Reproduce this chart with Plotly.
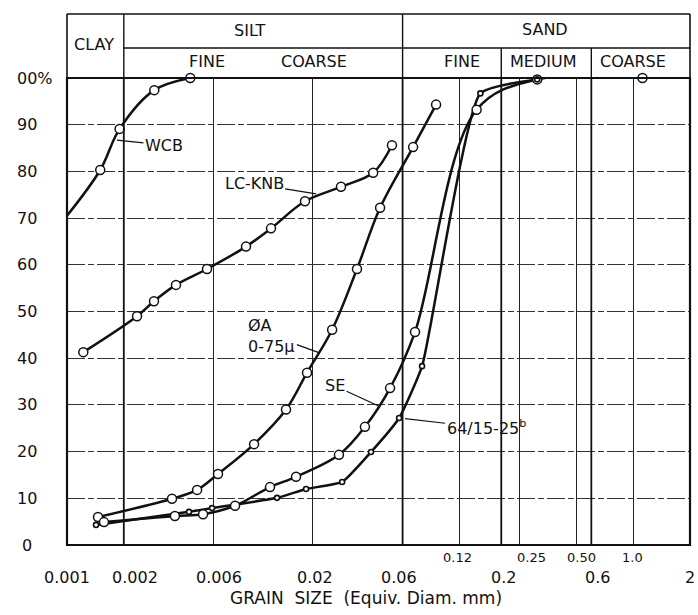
import numpy as np
import plotly.graph_objects as go

# ---- grain-size distribution data: percent finer vs. equivalent diameter (mm) ----
wcb_d = [0.0015, 0.0019, 0.0029, 0.0045]
wcb_p = [80.3, 89.1, 97.4, 100.0]
wcb_start_d = [0.001]          # curve enters at the left edge of the chart
wcb_start_p = [70.5]

lcknb_d = [0.00122, 0.00235, 0.00289, 0.00378, 0.00552, 0.00888, 0.01205,
           0.01824, 0.0283, 0.0419, 0.0527]
lcknb_p = [41.3, 49.0, 52.2, 55.7, 59.1, 63.9, 67.8, 73.6, 76.7, 79.7, 85.6]

oa_d = [0.00146, 0.0036, 0.00489, 0.00631, 0.0098, 0.01447, 0.0187, 0.0254,
        0.0344, 0.0456, 0.0682, 0.0903]
oa_p = [6.0, 9.9, 11.8, 15.2, 21.6, 29.0, 36.9, 46.1, 59.1, 72.2, 85.2, 94.3]

se_d = [0.00157, 0.00373, 0.00526, 0.00777, 0.0119, 0.01635, 0.0276, 0.0379,
        0.0515, 0.0698, 0.148, 0.31, 1.12]
se_p = [4.9, 6.2, 6.6, 8.4, 12.4, 14.6, 19.3, 25.3, 33.6, 45.6, 93.2, 99.7, 100.0]

s64_d = [0.001425, 0.00443, 0.00587, 0.01297, 0.01848, 0.0287, 0.0408, 0.0575,
         0.0761, 0.155, 0.31]
s64_p = [4.3, 7.1, 7.9, 10.1, 12.0, 13.5, 19.9, 27.2, 38.3, 96.7, 99.7]

# ---- axis ticks ----
grid_d = [0.002, 0.006, 0.02, 0.06, 0.12, 0.2, 0.25, 0.5, 0.6, 1.0]
boundary_d = [0.002, 0.06, 0.2, 0.6]          # clay / silt / sand class limits
lower_tick_d = [0.001, 0.002, 0.006, 0.02, 0.06, 0.2, 0.6, 2]
lower_tick_text = ["0.001", "0.002", "0.006", "0.02", "0.06", "0.2", "0.6", "2"]
upper_tick_d = [0.12, 0.25, 0.5, 1.0]
upper_tick_text = ["0.12", "0.25", "0.50", "1.0"]
y_ticks = [0, 10, 20, 30, 40, 50, 60, 70, 80, 90, 100]
y_tick_text = ["0", "10", "20", "30", "40", "50", "60", "70", "80", "90", "00%"]

# label pixel nudges (style only)
lower_shift = [0, 11, 5, 2, -4, 2, 6, 0]
upper_shift = [-2, 12, 5, -1]

FONT = "DejaVu Sans"
INK = "#111111"
NB = "\u00a0"

W, H = 698, 615
L, R, T, B = 67, 8, 78, 70
PW, PH = W - L - R, H - T - B


def px_x(px):
    return (px - L) / PW


def px_y(py):
    return (H - B - py) / PH


fig = go.Figure()

line_style = dict(color=INK, width=2.5, shape="spline", smoothing=1.0)
steep_style = dict(color=INK, width=2.5, shape="spline", smoothing=0.45)
open_marker = dict(symbol="circle", size=9, color="white",
                   line=dict(color=INK, width=1.5))
small_marker = dict(symbol="circle", size=5, color="white",
                    line=dict(color=INK, width=1.6))

# curves
fig.add_trace(go.Scatter(x=wcb_start_d + wcb_d, y=wcb_start_p + wcb_p,
                         mode="lines", line=line_style, hoverinfo="skip"))
for xs, ys, st in [(lcknb_d, lcknb_p, line_style), (oa_d, oa_p, line_style),
                   (se_d, se_p, line_style), (s64_d, s64_p, steep_style)]:
    fig.add_trace(go.Scatter(x=xs, y=ys, mode="lines", line=st, hoverinfo="skip"))

# measured points
for xs, ys, mk in [(wcb_d, wcb_p, open_marker), (lcknb_d, lcknb_p, open_marker),
                   (oa_d, oa_p, open_marker), (se_d, se_p, open_marker),
                   (s64_d, s64_p, small_marker)]:
    fig.add_trace(go.Scatter(x=xs, y=ys, mode="markers", marker=mk,
                             cliponaxis=False))

shapes = []
# heavier class-limit lines through the plot
for d in boundary_d:
    shapes.append(dict(type="line", xref="x", yref="paper", x0=d, x1=d,
                       y0=0, y1=1, line=dict(color=INK, width=1.8)))

# classification header above the plot
y_top = px_y(14)
y_mid = px_y(48)
shapes += [
    dict(type="line", xref="paper", yref="paper", x0=0, x1=1, y0=y_top, y1=y_top,
         line=dict(color=INK, width=1.6)),
    dict(type="line", xref="x", yref="paper", x0=0.002, x1=2, y0=y_mid, y1=y_mid,
         line=dict(color=INK, width=1.4)),
    dict(type="line", xref="paper", yref="paper", x0=0, x1=0, y0=1, y1=y_top,
         line=dict(color=INK, width=1.6)),
    dict(type="line", xref="paper", yref="paper", x0=1, x1=1, y0=1, y1=y_top,
         line=dict(color=INK, width=1.6)),
    dict(type="line", xref="x", yref="paper", x0=0.002, x1=0.002, y0=1, y1=y_top,
         line=dict(color=INK, width=1.4)),
    dict(type="line", xref="x", yref="paper", x0=0.06, x1=0.06, y0=1, y1=y_top,
         line=dict(color=INK, width=1.4)),
    dict(type="line", xref="x", yref="paper", x0=0.2, x1=0.2, y0=1, y1=y_mid,
         line=dict(color=INK, width=1.4)),
    dict(type="line", xref="x", yref="paper", x0=0.6, x1=0.6, y0=1, y1=y_mid,
         line=dict(color=INK, width=1.4)),
]
# plot frame
shapes.append(dict(type="rect", xref="paper", yref="paper", x0=0, x1=1, y0=0, y1=1,
                   line=dict(color=INK, width=2.2)))

ann = []
hdr_font = dict(family=FONT, size=16, color=INK)
for text, xd, ypx in [("CLAY", 10 ** -2.855, 45), ("SILT", 10 ** -2.03, 31),
                      ("SAND", 10 ** -0.467, 29), ("FINE", 10 ** -2.258, 62),
                      ("COARSE", 10 ** -1.691, 62), ("FINE", 10 ** -0.907, 62),
                      ("MEDIUM", 10 ** -0.478, 62), ("COARSE", 10 ** 0.0, 62)]:
    ann.append(dict(text=text, x=np.log10(xd), y=px_y(ypx), xref="x", yref="paper",
                    xanchor="center", yanchor="middle", showarrow=False,
                    font=hdr_font))

# x tick labels (two staggered rows)
for d, t, s in zip(lower_tick_d, lower_tick_text, lower_shift):
    ann.append(dict(text=t, x=np.log10(d), y=px_y(577), xref="x", yref="paper",
                    xanchor="center", yanchor="middle", showarrow=False, xshift=s,
                    font=dict(family=FONT, size=16, color=INK)))
for d, t, s in zip(upper_tick_d, upper_tick_text, upper_shift):
    ann.append(dict(text=t, x=np.log10(d), y=px_y(557), xref="x", yref="paper",
                    xanchor="center", yanchor="middle", showarrow=False, xshift=s,
                    font=dict(family=FONT, size=13, color=INK)))

# y tick labels
for v, t in zip(y_ticks, y_tick_text):
    if t.endswith("%"):
        ann.append(dict(text=t, x=px_x(15), y=v, xref="paper", yref="y",
                        xanchor="left", yanchor="middle", showarrow=False,
                        font=dict(family=FONT, size=16, color=INK)))
    else:
        ann.append(dict(text=t, x=px_x(39 if v else 34), y=v, xref="paper", yref="y",
                        xanchor="right", yanchor="middle", showarrow=False,
                        font=dict(family=FONT, size=16, color=INK)))

# axis title
title_text = NB.join(["GRAIN", "", "SIZE", "", "(Equiv.", "Diam.", "mm)"])
ann.append(dict(text=title_text, x=px_x(366), y=px_y(598),
                xref="paper", yref="paper", xanchor="center", yanchor="middle",
                showarrow=False, font=dict(family=FONT, size=17, color=INK)))

# curve labels with leader lines
lbl_font = dict(family=FONT, size=16, color=INK)
for text, xd, yv, ax, ay, so, align in [
        ("WCB", 0.00184, 86.7, 47, 5, 0, "center"),
        ("LC-KNB", 0.0209, 75.2, -62, -10, 0, "center"),
        ("ØA<br>0-75µ", 0.0216, 41.2, -47, -17, 0, "left"),
        ("SE", 0.0445, 29.8, -43, -20, 0, "center"),
        ("64/15-25<sup>b</sup>", 0.0575, 27.2, 87, 10, 6, "center")]:
    ann.append(dict(text=text, x=np.log10(xd), y=yv, xref="x", yref="y",
                    showarrow=True, arrowhead=0, arrowwidth=1.2, arrowcolor=INK,
                    ax=ax, ay=ay, standoff=so, align=align, font=lbl_font))

fig.update_layout(
    width=W, height=H,
    margin=dict(l=L, r=R, t=T, b=B),
    paper_bgcolor="white", plot_bgcolor="white",
    showlegend=False,
    shapes=shapes, annotations=ann,
    xaxis=dict(type="log", range=[-3, np.log10(2)], tickvals=grid_d,
               showticklabels=False, ticks="", showgrid=True,
               gridcolor="#222222", gridwidth=1.1, zeroline=False, showline=False),
    yaxis=dict(range=[0, 100], tickvals=y_ticks, showticklabels=False, ticks="",
               showgrid=True, gridcolor="#333333", gridwidth=1,
               griddash="18px,3px,6px,3px", zeroline=False, showline=False),
)

fig.write_html("out.html")
